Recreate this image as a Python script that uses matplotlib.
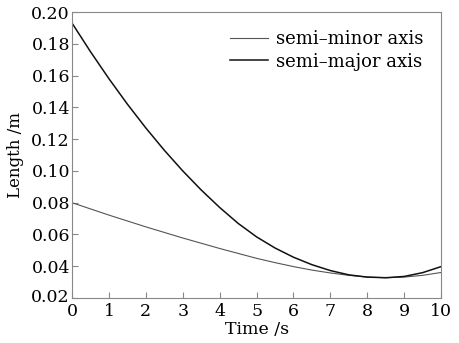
import numpy as np
import matplotlib.pyplot as plt
import matplotlib.transforms as mtransforms

# values
t = [0, 0.5, 1, 1.5, 2, 2.5, 3, 3.5, 4, 4.5, 5, 5.5, 6, 6.5, 7, 7.5, 8, 8.5, 9, 9.5, 10]
semi_major = [0.1930, 0.1750, 0.1580, 0.1420, 0.1270, 0.1130, 0.1000, 0.0880, 0.0770, 0.0670,
              0.0585, 0.0515, 0.0457, 0.0410, 0.0373, 0.0346, 0.0332, 0.0328, 0.0336, 0.0360, 0.0398]
semi_minor = [0.0800, 0.0761, 0.0722, 0.0685, 0.0648, 0.0613, 0.0578, 0.0545, 0.0512, 0.0481,
              0.0450, 0.0423, 0.0398, 0.0376, 0.0358, 0.0343, 0.0332, 0.0328, 0.0332, 0.0343, 0.0361]

xticks = np.arange(0, 11, 1)
yticks = [0.02, 0.04, 0.06, 0.08, 0.10, 0.12, 0.14, 0.16, 0.18, 0.20]

plt.rcParams['font.family'] = 'DejaVu Serif'
plt.rcParams['font.size'] = 12.5

fig = plt.figure(figsize=(4.59, 3.43), dpi=100)
ax = fig.add_axes([0.157, 0.131, 0.804, 0.834])

ax.plot(t, semi_minor, color='#555555', lw=0.8, label='semi\u2013minor axis')
ax.plot(t, semi_major, color='#111111', lw=1.1, label='semi\u2013major axis')

ax.set_xlim(0, 10)
ax.set_ylim(0.02, 0.20)
ax.set_xticks(xticks)
ax.set_yticks(yticks)
ax.set_yticklabels(['%.2f' % v for v in yticks])

for s in ax.spines.values():
    s.set_color('#888888')
ax.tick_params(direction='in', length=4, color='#888888')
ax.tick_params(axis='y', pad=1.5)
ax.tick_params(axis='x', pad=3.5)

# lift the bottom y label a touch so it clears the "0" below it
lab = ax.get_yticklabels()[0]
lab.set_transform(lab.get_transform() +
                  mtransforms.ScaledTranslation(0, 3 / 100, fig.dpi_scale_trans))

ax.set_xlabel('Time /s', labelpad=0.5)
ax.set_ylabel('Length /m', fontsize=12, labelpad=5)

ax.legend(loc='upper right', frameon=False, handlelength=2.1, fontsize=13,
          borderaxespad=0.6, labelspacing=0.25, handletextpad=0.45)

fig.savefig('out.png', dpi=100)
